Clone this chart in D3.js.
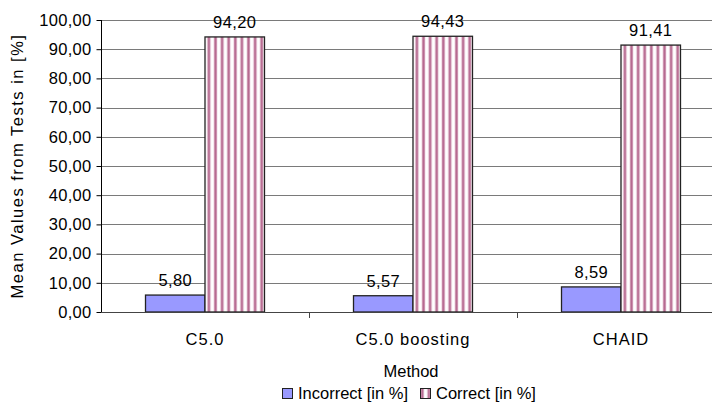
<!DOCTYPE html>
<html>
<head>
<meta charset="utf-8">
<script src="https://cdn.jsdelivr.net/npm/d3@7/dist/d3.min.js"></script>
<style>
  html, body { margin: 0; padding: 0; background: #fff; }
  svg { display: block; font-family: "Liberation Sans", Arial, sans-serif; }
</style>
</head>
<body>
<svg id="chart" width="712" height="407"></svg>
<script>
// Mean test results per classification method
const methods = ["C5.0", "C5.0 boosting", "CHAID"];
const seriesNames = ["Incorrect [in %]", "Correct [in %]"];
const incorrect = [5.80, 5.57, 8.59];
const correct = [94.20, 94.43, 91.41];
const yTicks = [0, 10, 20, 30, 40, 50, 60, 70, 80, 90, 100];

const rows = methods.map((m, i) => ({ method: m, values: [incorrect[i], correct[i]] }));

const svg = d3.select("#chart");
const fontSize = 16.5;
const fmt = v => d3.format(".2f")(v).replace(".", ",");

const plot = { left: 101, right: 725, top: 20, bottom: 312 };

const x0 = d3.scaleBand().domain(methods).range([plot.left, plot.right]).padding(0);
const x1 = d3.scaleBand().domain([0, 1]).range([0, x0.bandwidth()]).paddingInner(0).paddingOuter(0.748);
const y = d3.scaleLinear().domain([0, 100]).range([plot.bottom, plot.top]);

// Striped fill for the "Correct" series
const defs = svg.append("defs");
const pat = defs.append("pattern")
  .attr("id", "stripes")
  .attr("patternUnits", "userSpaceOnUse")
  .attr("width", 6.6).attr("height", 10);
pat.append("rect").attr("width", 6.6).attr("height", 10).attr("fill", "#fff");
pat.append("rect").attr("x", 0.6).attr("width", 3.4).attr("height", 10).attr("fill", "#e2b8cd");
pat.append("rect").attr("x", 1.3).attr("width", 2).attr("height", 10).attr("fill", "#b5688f");

// Horizontal gridlines
svg.append("g")
  .selectAll("line")
  .data(yTicks.filter(t => t > 0))
  .join("line")
  .attr("x1", plot.left).attr("x2", plot.right)
  .attr("y1", d => Math.round(y(d)) + 0.5).attr("y2", d => Math.round(y(d)) + 0.5)
  .attr("stroke", "#7a7a7a").attr("stroke-width", 1);

// Bars
const fills = ["#9999ff", "url(#stripes)"];
const groups = svg.append("g")
  .selectAll("g")
  .data(rows)
  .join("g")
  .attr("transform", d => `translate(${x0(d.method)},0)`);

groups.selectAll("rect")
  .data(d => d.values.map((v, k) => ({ v, k })))
  .join("rect")
  .attr("x", d => x1(d.k))
  .attr("y", d => y(d.v))
  .attr("width", x1.bandwidth())
  .attr("height", d => y(0) - y(d.v))
  .attr("fill", d => fills[d.k])
  .attr("stroke", "#222")
  .attr("stroke-width", 1.3);

// Value labels
groups.selectAll("text")
  .data(d => d.values.map((v, k) => ({ v, k })))
  .join("text")
  .attr("x", d => x1(d.k) + x1.bandwidth() / 2)
  .attr("y", d => y(d.v) - 9)
  .attr("text-anchor", "middle")
  .attr("font-size", fontSize)
  .attr("letter-spacing", 0.4)
  .attr("fill", "#000")
  .text(d => fmt(d.v));

// Y axis
const yAxis = svg.append("g")
  .attr("transform", `translate(${plot.left + 0.5},0)`)
  .call(d3.axisLeft(y).tickValues(yTicks).tickSize(5).tickPadding(5).tickFormat(fmt));
yAxis.select(".domain").attr("stroke", "#000").attr("d", `M0,${plot.top}V${plot.bottom + 0.5}`);
yAxis.selectAll(".tick line").attr("stroke", "#000");
yAxis.selectAll(".tick text").attr("font-size", fontSize).attr("fill", "#000")
  .attr("letter-spacing", 0.3)
  .attr("font-family", "Liberation Sans, Arial, sans-serif");

// X axis
const xAxis = svg.append("g")
  .attr("transform", `translate(0,${plot.bottom + 0.5})`)
  .call(d3.axisBottom(x0).tickSize(0).tickPadding(21));
xAxis.select(".domain").attr("stroke", "#444").attr("d", `M${plot.left},0H${plot.right}`);
xAxis.selectAll(".tick text").attr("font-size", fontSize).attr("fill", "#000")
  .attr("letter-spacing", 1.0)
  .attr("font-family", "Liberation Sans, Arial, sans-serif");
// category separators
svg.append("g")
  .selectAll("line")
  .data(methods.slice(1))
  .join("line")
  .attr("x1", d => Math.round(x0(d)) + 0.5).attr("x2", d => Math.round(x0(d)) + 0.5)
  .attr("y1", plot.bottom).attr("y2", plot.bottom + 6)
  .attr("stroke", "#444");

// Axis titles
svg.append("text")
  .attr("transform", `translate(23,${(plot.top + plot.bottom) / 2}) rotate(-90)`)
  .attr("text-anchor", "middle")
  .attr("font-size", fontSize)
  .attr("letter-spacing", 1.5)
  .text("Mean Values from Tests in [%]");

svg.append("text")
  .attr("x", 411).attr("y", 377)
  .attr("text-anchor", "middle")
  .attr("font-size", fontSize)
  .text("Method");

// Legend
const legend = svg.append("g").attr("transform", "translate(282,388)");
const items = [{ name: seriesNames[0], fill: fills[0], x: 0 }, { name: seriesNames[1], fill: fills[1], x: 138 }];
const li = legend.selectAll("g").data(items).join("g").attr("transform", d => `translate(${d.x},0)`);
li.append("rect").attr("x", 0.5).attr("y", 0.5).attr("width", 10).attr("height", 10)
  .attr("fill", d => d.fill).attr("stroke", "#222");
li.append("text").attr("x", 16).attr("y", 10.5).attr("font-size", fontSize)
  .text(d => d.name);
</script>
</body>
</html>
